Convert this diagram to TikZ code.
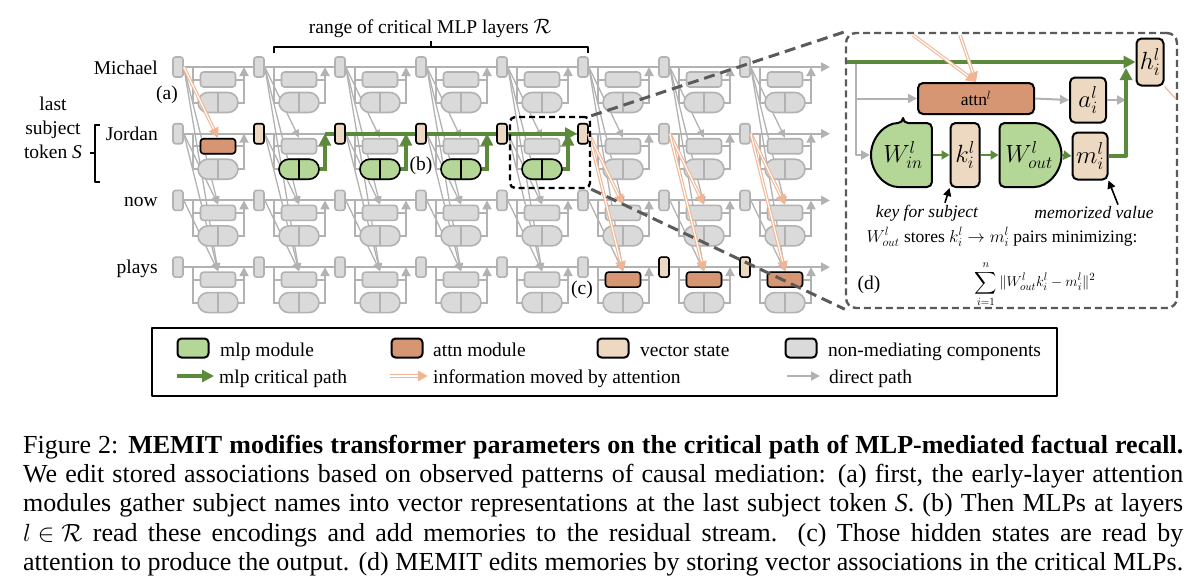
\documentclass[tikz,border=0pt]{standalone}
\usepackage{amssymb,amsmath}
\usepackage{fontspec}
\setmainfont{Liberation Serif}
\usepackage{tikz}
\usetikzlibrary{arrows.meta,backgrounds,shapes.misc}

\definecolor{mlpgreen}{RGB}{180,215,152}
\definecolor{attnorange}{RGB}{214,150,116}
\definecolor{vecbeige}{RGB}{237,217,193}
\definecolor{offgray}{RGB}{218,218,218}
\definecolor{offline}{RGB}{178,178,178}
\definecolor{pathgreen}{RGB}{92,138,60}
\definecolor{infoorange}{RGB}{240,182,148}
\definecolor{zoomgray}{RGB}{90,90,90}

\tikzset{
  comp/.style={draw=offline,fill=offgray,line width=1.6pt,inner sep=0pt},
  vecbox/.style={comp,rounded corners=2.5pt,minimum width=10pt,minimum height=20pt},
  attnbox/.style={comp,rounded corners=3pt,minimum width=35pt,minimum height=15pt},
  mlpl/.style={comp,rounded rectangle,rounded rectangle right arc=none,outer sep=0pt,minimum width=16pt,minimum height=20pt},
  mlpr/.style={comp,rounded rectangle,rounded rectangle left arc=none,outer sep=0pt,minimum width=16pt,minimum height=20pt},
  hot/.style={draw=black,fill=#1},
  dline/.style={draw=offline,line width=2pt},
  dtip/.style={-{Triangle[width=9pt,length=9pt]}},
  attline/.style={draw=offline,line width=1.3pt,-{Triangle[width=7pt,length=8pt]}},
  info/.style={draw=infoorange,line width=3.4pt,-{Triangle[width=10pt,length=10pt]},
    postaction={draw=white,line width=1.2pt,-,shorten >=10pt}},
  crit/.style={draw=pathgreen,line width=4pt},
  ctip/.style={-{Triangle[width=12pt,length=12pt]}},
  ibox/.style={draw=black,line width=2pt,rounded corners=5pt,inner sep=0pt},
  lbl/.style={font=\fontsize{19.5}{24}\selectfont,inner sep=0pt},
  note/.style={font=\fontsize{17.5}{21}\selectfont,inner sep=0pt},
  bigmath/.style={font=\fontsize{25}{27}\selectfont},
  swatch/.style={draw=black,line width=2pt,rounded corners=4pt,minimum width=31pt,minimum height=19pt,inner sep=0pt},
  capline/.style={font=\fontsize{26}{29}\selectfont,inner sep=0pt,anchor=base west},
  pointer/.style={draw=black,line width=1.6pt,-{Triangle[width=8pt,length=8pt]}}
}

\begin{document}
\begin{tikzpicture}[x=1pt,y=-1pt,join=round] % MEMIT layers
\useasboundingbox (0,0) rectangle (1200,584);
% grid of layers
\foreach \r in {0,...,3}{
  \foreach \k in {0,...,7}{
    \pgfmathsetmacro\xx{178+81*\k}
    \pgfmathsetmacro\yy{67+66.7*\r}
    \node[vecbox] (v-\r-\k) at (\xx,\yy) {};
    \node[attnbox] (a-\r-\k) at (\xx+40,\yy+12.5) {};
    \node[mlpl,anchor=east] (ml-\r-\k) at (\xx+40,\yy+35.5) {};
    \node[mlpr,anchor=west] (mr-\r-\k) at (\xx+40,\yy+35.5) {};
    \coordinate (b-\r-\k) at (\xx+15,\yy);
    \coordinate (j-\r-\k) at (\xx+66,\yy);
  }
  \coordinate (end-\r) at (830,67+66.7*\r);
}
% mediating components
\node[attnbox,hot=attnorange] (a-1-0) at (a-1-0) {};
\foreach \k in {1,...,5} \node[vecbox,hot=vecbeige] (v-1-\k) at (v-1-\k) {};
\foreach \k in {1,...,4}{
  \node[mlpl,hot=mlpgreen,anchor=east] (ml-1-\k) at (ml-1-\k.east) {};
  \node[mlpr,hot=mlpgreen,anchor=west] (mr-1-\k) at (mr-1-\k.west) {};
}
\foreach \k in {5,6,7} \node[attnbox,hot=attnorange] (a-3-\k) at (a-3-\k) {};
\foreach \k in {6,7} \node[vecbox,hot=vecbeige] (v-3-\k) at (v-3-\k) {};

\begin{scope}[on background layer]
  \foreach \r in {0,...,3}{
    \foreach \k [count=\n from 1] in {0,...,6}
      \draw[dline] (v-\r-\k.east) -- (v-\r-\n.west);
    \draw[dline,dtip] (v-\r-7.east) -- (end-\r);
    \foreach \k in {0,...,7}{
      \draw[dline] (b-\r-\k) |- (a-\r-\k.west);
      \draw[dline] (b-\r-\k) |- (ml-\r-\k.west);
      \draw[dline] (a-\r-\k.east) -- (a-\r-\k.east -| j-\r-\k);
      \draw[dline,dtip] (mr-\r-\k.east) -| (j-\r-\k);
    }
  }
  \foreach \k in {0,...,7}
    \foreach \r/\s in {0/1,0/2,0/3,1/2,1/3,2/3}
      \draw[attline] (v-\r-\k.east) -- (a-\s-\k.north);
  % critical path
  \foreach \k in {1,...,4}
    \draw[crit,ctip] (mr-1-\k.east) -| (j-1-\k);
  \draw[crit] (j-1-1) -- (v-1-2.west);
  \foreach \k/\n in {2/3,3/4} \draw[crit] (v-1-\k.east) -- (v-1-\n.west);
  \draw[crit,ctip] (v-1-4.east) -- (v-1-5.west);
\end{scope}

% attention moves
\draw[info] (v-0-0.east) -- (a-1-0.north);
\foreach \k in {5,6,7}{
  \draw[info] (v-1-\k.east) -- (a-2-\k.north);
  \draw[info] (v-1-\k.east) -- (a-3-\k.north);
}

% labels
\node[lbl,anchor=base east] (tok0) at (158,74) {Michael};
\node[lbl,anchor=base east] (tok1) at (158,140) {Jordan};
\node[lbl,anchor=base east] (tok2) at (158,206) {now};
\node[lbl,anchor=base east] (tok3) at (158,273) {plays};
\node[lbl,align=center] (subj) at (53,128) {last\\subject\\token \textit{S}};
\draw[line width=1.5pt] (100,125) -- (95,125) -- (95,182) -- (100,182) (95,153) -- (90,153);
\node[lbl] (pa) at (167,95) {(a)};
\node[lbl] (pb) at (421,166) {(b)};
\node[lbl] (pc) at (582,290) {(c)};
\node[lbl] (range) at (430,29) {range of critical MLP layers $\mathcal{R}$};
\draw[line width=1.5pt] (274,53) -- (274,47) -- (588,47) -- (588,53) (431,47) -- (431,41);

% zoom
\node[draw=black,line width=2.4pt,dash pattern=on 6pt off 4pt,rounded corners=5pt,minimum width=80pt,minimum height=71pt] (focus) at (550,152.5) {};
\node[draw=zoomgray,line width=2.4pt,dash pattern=on 7pt off 4pt,rounded corners=10pt,minimum width=331pt,minimum height=275pt] (inset) at (1011.5,170.5) {};
\draw[zoomgray,line width=3pt,dash pattern=on 11pt off 6pt] (focus.north east) -- (inset.north west);
\draw[zoomgray,line width=3pt,dash pattern=on 11pt off 6pt] (focus.south east) -- (inset.south west);

\node[ibox,fill=vecbeige,minimum width=27pt,minimum height=47pt,bigmath] (hstate) at (1150,62) {$h_i^l$};
\node[ibox,fill=attnorange,minimum width=116pt,minimum height=31pt,note] (attnl) at (976,98.5) {attn$^l$};
\node[ibox,fill=vecbeige,minimum width=36pt,minimum height=45pt,bigmath] (astate) at (1088,100) {$a_i^l$};
\node[ibox,rounded rectangle,rounded rectangle right arc=none,fill=mlpgreen,minimum width=57pt,minimum height=64pt,bigmath] (win) at (903,155) {$W_{in}^l$};
\node[ibox,fill=vecbeige,minimum width=29pt,minimum height=64pt,bigmath] (kvec) at (965,155) {$k_i^l$};
\node[ibox,rounded rectangle,rounded rectangle left arc=none,fill=mlpgreen,minimum width=62pt,minimum height=64pt,bigmath] (wout) at (1029,155) {$W_{out}^l$};
\node[ibox,fill=vecbeige,minimum width=35pt,minimum height=47pt,bigmath] (mvec) at (1090,156) {$m_i^l$};

\coordinate (hin) at (847,62);
\coordinate (tap) at (856,62);
\coordinate (up) at (1126,68);
\coordinate (src1) at (913,35);
\coordinate (src2) at (960,35);
\coordinate (hout) at (1176,99);
\draw[dline,dtip] (tap) |- (attnl.west);
\draw[dline,dtip] (tap) |- (win.west);
\draw[crit,ctip] (hin) -- (hstate.west);
\draw[dline,dtip] (attnl.east) -- (astate.west);
\draw[dline,dtip] (astate.east) -- (astate.east -| up);
\draw[crit,ctip] (mvec.east) -| (up);
\draw[crit,line width=2.5pt,-{Triangle[width=9pt,length=8pt]}] (win.east) -- (kvec.west);
\draw[crit,line width=2.5pt,-{Triangle[width=9pt,length=8pt]}] (kvec.east) -- (wout.west);
\draw[crit,line width=2.5pt,-{Triangle[width=9pt,length=8pt]}] (wout.east) -- (mvec.west);
\draw[info] (src1) -- (attnl.north);
\draw[info] (src2) -- (attnl.north);
\draw[infoorange,line width=1.2pt] (hstate.south east) -- (hout);

\node[note] (keylbl) at (927,213) {\itshape key for subject};
\node[note] (vallbl) at (1094,213) {\itshape memorized value};
\draw[pointer] ([xshift=18pt,yshift=2pt]keylbl.north) -- (kvec.south west);
\draw[pointer] ([xshift=24pt,yshift=2pt]vallbl.north) -- (mvec.south east);
\node[note] (stores) at (1002,237) {$W_{out}^l$ stores $k_i^l \rightarrow m_i^l$ pairs minimizing:};
\node[note,font=\fontsize{15.5}{18}\selectfont] (objective) at (1035,284) {$\displaystyle\sum_{i=1}^{n} \| W_{out}^l k_i^l - m_i^l \|^2$};
\node[lbl] (pd) at (869,285) {(d)};

% legend
\node[draw=black,line width=1.6pt,minimum width=905pt,minimum height=68pt,inner sep=0pt] (legend) at (604.5,362) {};
\node[swatch,fill=mlpgreen] (k-mlp) at (193,348) {};
\node[lbl,anchor=base west] (t-mlp) at (220,356) {mlp module};
\node[swatch,fill=attnorange] (k-attn) at (407,348) {};
\node[lbl,anchor=base west] (t-attn) at (433,356) {attn module};
\node[swatch,fill=vecbeige] (k-vec) at (613,348) {};
\node[lbl,anchor=base west] (t-vec) at (640,356) {vector state};
\node[swatch,fill=offgray] (k-off) at (801,348) {};
\node[lbl,anchor=base west] (t-off) at (828,356) {non-mediating components};
\coordinate (g-crit) at (177,376);
\coordinate (g-info) at (390,376);
\coordinate (g-dir) at (787,376);
\node[lbl,anchor=base west] (t-crit) at (219,383) {mlp critical path};
\node[lbl,anchor=base west] (t-info) at (433,383) {information moved by attention};
\node[lbl,anchor=base west] (t-dir) at (829,383) {direct path};
\draw[crit,line width=3.5pt,ctip] (g-crit) -- ([xshift=-5pt]g-crit -| t-crit.west);
\draw[info] (g-info) -- ([xshift=-5pt]g-info -| t-info.west);
\draw[dline,dtip] (g-dir) -- ([xshift=-9pt]g-dir -| t-dir.west);

% caption
\node[capline] (cap1) at (23,453) {\makebox[1160pt][s]{Figure 2: \textbf{MEMIT modifies transformer parameters on the critical path of MLP-mediated factual recall.}}};
\node[capline] (cap2) at (23,482) {\makebox[1160pt][s]{We edit stored associations based on observed patterns of causal mediation: (a) first, the early-layer attention}};
\node[capline] (cap3) at (23,511) {\makebox[1160pt][s]{modules gather subject names into vector representations at the last subject token \textit{S}. (b) Then MLPs at layers}};
\node[capline] (cap4) at (23,541) {\makebox[1160pt][s]{\mbox{$l \in \mathcal{R}$} read these encodings and add memories to the residual stream. (c) Those hidden states are read by}};
\node[capline] (cap5) at (23,570) {\makebox[1160pt][s]{attention to produce the output. (d) MEMIT edits memories by storing vector associations in the critical MLPs.}};
\end{tikzpicture}
\end{document}
